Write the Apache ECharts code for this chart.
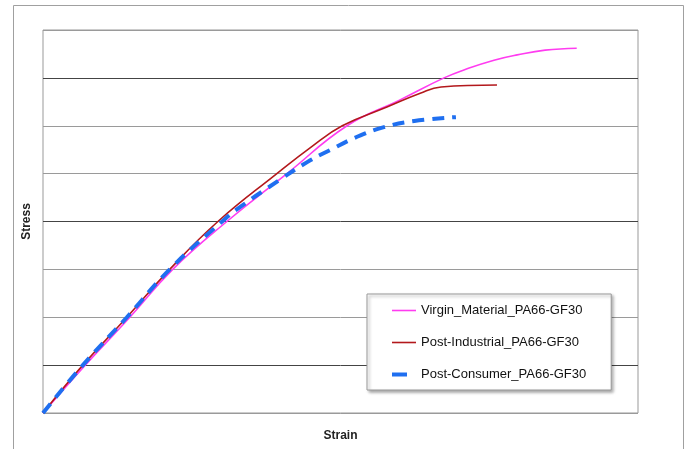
<!DOCTYPE html>
<html>
<head>
<meta charset="utf-8">
<script src="https://cdn.jsdelivr.net/npm/echarts@6/dist/echarts.min.js"></script>
<style>
  html, body { margin: 0; padding: 0; background: #fff; }
  #chart { width: 688px; height: 449px; }
</style>
</head>
<body>
<div id="chart"></div>
<script>
// series names
var seriesNames = ['Virgin_Material_PA66-GF30', 'Post-Industrial_PA66-GF30', 'Post-Consumer_PA66-GF30'];

// [strain, stress] points (axes have no numbers, so 0-100 / 0-8)
var virgin = [[0, 0], [7.1, 1], [14.6, 2], [21.8, 3], [30.9, 4], [41.0, 5], [51.1, 6], [60.0, 6.54],
    [67.4, 7], [71.5, 7.2], [75.8, 7.37], [79.7, 7.48], [84.4, 7.58], [89.7, 7.62]];
var postIndustrial = [[0, 0], [6.7, 1], [14.1, 2], [21.3, 3], [29.4, 4], [39.3, 5], [45.0, 5.55], [50.3, 6],
    [57.8, 6.39], [63.4, 6.68], [66.9, 6.81], [76.3, 6.85]];
var postConsumer = [[0, 0], [6.7, 1], [14.1, 2], [21.3, 3], [30.1, 4], [33.1, 4.3], [39.8, 4.87], [44.4, 5.24],
    [48.2, 5.49], [52.8, 5.77], [57.3, 5.97], [62.4, 6.10], [69.4, 6.18]];

// legend icons: thin line for solid series, short thick dash for the dashed one
var lineIcon = 'path://M0,0M24,10M0,4.2H24V5.8H0Z';
var dashIcon = 'path://M0,0M24,10M0,3H15V7H0Z';

var chart = echarts.init(document.getElementById('chart'));

var option = {
    backgroundColor: '#fff',
    textStyle: { fontFamily: 'Liberation Sans' },
    animation: false,
    // outer frame
    graphic: [{
        type: 'rect',
        shape: { x: 13.5, y: 5.5, width: 670, height: 470 },
        style: { fill: 'none', stroke: '#a0a0a0', lineWidth: 1 },
        z: -10
    }],
    grid: {
        left: 43, top: 30, right: 50, bottom: 36,
        show: true, borderColor: '#999', borderWidth: 1
    },
    legend: {
        orient: 'vertical',
        left: 367, top: 294,
        padding: [10, 25, 9, 25],
        itemGap: 19,
        itemWidth: 24,
        itemHeight: 10,
        backgroundColor: '#fff',
        borderColor: '#999',
        borderWidth: 1,
        shadowColor: 'rgba(0,0,0,0.35)',
        shadowBlur: 3,
        shadowOffsetX: 2,
        shadowOffsetY: 2,
        textStyle: { fontSize: 13, color: '#111', fontFamily: 'Liberation Sans' },
        data: [
            { name: seriesNames[0], icon: lineIcon },
            { name: seriesNames[1], icon: lineIcon },
            { name: seriesNames[2], icon: dashIcon }
        ]
    },
    xAxis: {
        type: 'value', min: 0, max: 100,
        name: 'Strain', nameLocation: 'middle', nameGap: 17,
        nameTextStyle: { fontSize: 12, fontWeight: 'bold', color: '#222' },
        axisLine: { show: false },
        axisTick: { show: false },
        axisLabel: { show: false },
        splitLine: { show: false }
    },
    yAxis: {
        type: 'value', min: 0, max: 8, interval: 1,
        name: 'Stress', nameLocation: 'middle', nameGap: 10,
        nameTextStyle: { fontSize: 12, fontWeight: 'bold', color: '#222' },
        axisLine: { show: false },
        axisTick: { show: false },
        axisLabel: { show: false },
        splitLine: { lineStyle: { color: ['#9a9a9a', '#444', '#9a9a9a'], width: 1 } }
    },
    series: [{
        name: seriesNames[0],
        type: 'line',
        data: virgin,
        smooth: 0.45,
        showSymbol: false,
        symbol: 'none',
        color: '#ff3cf0',
        lineStyle: { color: '#ff3cf0', width: 1.6 },
        z: 3
    }, {
        name: seriesNames[1],
        type: 'line',
        data: postIndustrial,
        smooth: 0.45,
        showSymbol: false,
        symbol: 'none',
        color: '#b3181c',
        lineStyle: { color: '#b3181c', width: 1.6 },
        z: 4
    }, {
        name: seriesNames[2],
        type: 'line',
        data: postConsumer,
        smooth: 0.45,
        showSymbol: false,
        symbol: 'none',
        color: '#1f6ff0',
        lineStyle: { color: '#1f6ff0', width: 4, type: [12, 8] },
        z: 5
    }]
};

chart.setOption(option);
</script>
</body>
</html>
